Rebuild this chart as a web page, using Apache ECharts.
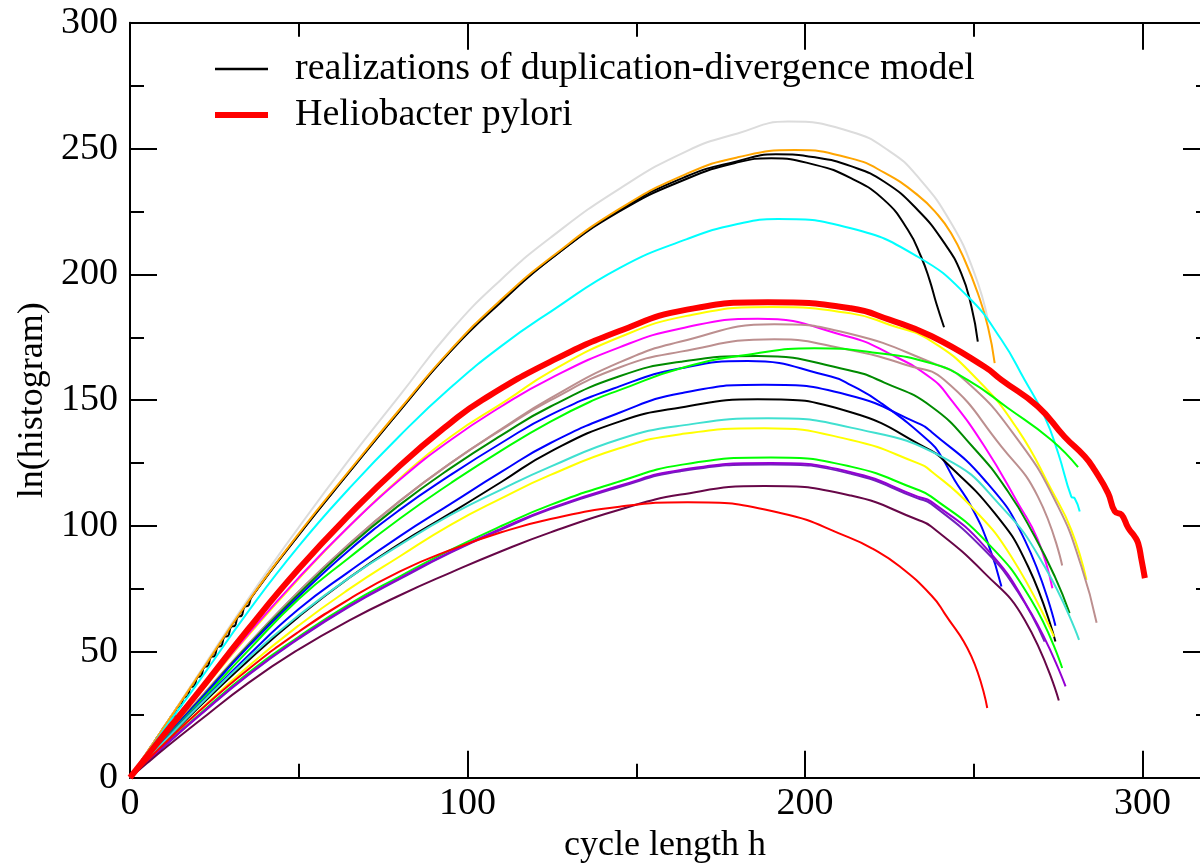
<!DOCTYPE html>
<html><head><meta charset="utf-8">
<script src="https://cdn.jsdelivr.net/npm/echarts@6/dist/echarts.min.js"></script>
<style>html,body{margin:0;padding:0;background:#fff}#c{width:1200px;height:865px}</style>
</head><body><div id="c"></div>
<script>
const FONT = '"Liberation Serif","Times New Roman",serif';
const LEGEND_REAL = 'realizations of duplication-divergence model';
const LEGEND_HP = 'Heliobacter pylori';
const X_NAME = 'cycle length h';
const Y_NAME = 'ln(histogram)';

// ---- data: [cycle length h, ln(histogram)] ----
const black1 = [[0,0],[5,10],[10,20],[20,40],[35,70],[50,96.5],[65,121.5],[80,146],[95,169.5],[110,189.5],[125,206.5],[145,225.5],[165,239],[180,245],[191.4,247.7],[203,246.5],[213.6,243],[223.5,236.8],[233.4,225.6],[241.3,212.4],[246.3,200.4],[249.3,187.2],[251.2,173.3]];
const black2 = [[0,0],[2,4],[3,4.3],[4,8],[5,8.3],[6,12],[7,12.3],[8,16],[9,16.3],[10,20],[11,20.3],[12,24],[13,24.3],[14,28],[15,28.3],[16,32],[17,32.3],[18,36],[19,36.3],[20,40],[21,40.3],[22,44],[23,44.3],[24,48],[25,48.3],[26,52],[27,52.3],[28,56],[29,56.3],[30,60],[31,60.3],[32,64],[33,64.3],[34,68],[35,68.3],[36,71.7],[50,96.5],[65,121.5],[80,146],[95,169.5],[110,189],[125,206.5],[145,225],[165,238],[180,244.5],[190,246.1],[203,243.5],[213.6,238.2],[223.5,229.5],[230.5,217.6],[234.4,207],[236.9,197.8],[238.9,188.5],[241.2,179]];
const grey = [[0,0],[5,10],[10,20],[20,40.5],[35,71],[50,99.5],[65,126.5],[80,152],[95,177.5],[110,198],[125,215],[145,234],[165,249],[180,256],[195,260.7],[213.6,256.7],[225,249],[233.4,238.8],[243.3,220.4],[250.2,200.4],[254.2,181.9]];
const orange = [[0,0],[5,10],[10,20],[20,40],[35,70],[50,97],[65,122],[80,146.5],[95,170],[110,190],[125,207],[145,226],[165,240],[180,246.5],[197,249.4],[213.6,246.1],[223.5,240.4],[233.4,231.5],[239.4,223.6],[243.3,216.3],[247.3,205.7],[251.2,192.5],[254.2,179.2],[256.2,164.7]];
const cyan = [[0,0],[5,9.5],[10,19],[20,37.5],[35,66],[50,92],[65,115],[80,136],[95,155],[110,171.5],[125,185.5],[145,202.5],[165,214],[180,220],[192,222],[213.6,218.3],[233.4,207],[248.3,191.1],[258.2,174],[265.1,158],[271,143.5],[275,129],[278.9,111.7],[279.9,111],[281.4,105.8]];
const yellow1 = [[0,0],[5,8.3],[10,16.5],[20,32.5],[35,56.5],[50,79],[65,100],[80,119],[95,135.5],[111.8,150.1],[124.6,161.4],[145,175],[165,183.5],[190,187],[213.6,184.5],[225,180],[237.4,173.5],[251.2,158],[263.1,138.2],[273,114.4],[278.9,98.5],[283.4,78.6]];
const magenta = [[0,0],[5,8.3],[10,16.6],[20,32.8],[35,57],[50,79.5],[65,100],[80,118.5],[95,134.2],[110,147.5],[124.6,158.7],[145,171],[163.2,178.5],[186,182.4],[212.7,175.3],[225,168.5],[237.4,158.7],[243.3,150.1],[253.2,131.6],[263.1,109.1],[269,94.5],[273.3,75.3]];
const brownUpper = [[0,0],[5,7.8],[10,15.5],[20,30.5],[35,53],[50,74],[65,93],[80,110],[95,125],[110,138.5],[124.6,150.8],[145,165],[163.2,173.3],[190.9,180.2],[213,176.5],[237.4,165],[247.3,158],[263.1,134.2],[275,107.7],[281.9,83.9],[286.4,61.6]];
const brownLower = [[0,0],[5,7.8],[10,15.5],[20,30.5],[35,53],[50,74],[65,93],[80,110],[95,125],[110,138.2],[124.6,150],[145,163],[163.2,169.3],[190.9,174.2],[213,170],[230,164],[241.3,158],[258.2,131.6],[269,111.7],[276.2,84.3]];
const green4 = [[0,0],[5,7.7],[10,15.3],[20,30],[35,52.5],[50,73],[65,92],[80,108.5],[95,123],[110,136],[124.6,147.5],[145,159.5],[163.2,165.3],[186,167.6],[212.7,162],[223.5,157],[237.4,147.5],[250,131],[260,114],[268,96],[274,80],[278.4,65.4]];
const blue1 = [[0,0],[5,7.6],[10,15.2],[20,29.8],[35,52],[50,72],[65,90.5],[80,106.5],[95,120.3],[110,133],[124.6,144.2],[145,155.5],[163.2,162.7],[183,165.6],[207.7,159.4],[213.6,156],[222.6,148.8],[237.4,132.9],[240.4,127.6],[244.3,118.3],[249.3,107.7],[254.2,93.2],[258.2,76]];
const lime1 = [[0,0],[5,7.4],[10,14.8],[20,29],[35,50.5],[50,71],[65,87.5],[80,103],[95,117],[110,130],[124.6,141.5],[137.5,150.1],[145,154],[164,163],[185,168.5],[202.8,170.6],[220,169],[237.4,164.7],[248.3,158],[260,147],[273,134.2],[280.9,123.4]];
const blue2 = [[0,0],[5,7.2],[10,14.4],[20,28.3],[35,48.5],[50,67],[65,82],[80,96],[95,108.8],[110,121.5],[124.6,133],[145,145],[163.2,152.8],[187.9,156.1],[212.7,152.1],[233.4,140.9],[237.4,137.5],[253.2,118.3],[265.1,94.5],[274.2,60.4]];
const black3 = [[0,0],[5,7],[10,14],[20,27.5],[35,46.5],[50,64],[65,79.5],[80,93],[95,105.1],[110,117.5],[124.6,129.6],[145,141.5],[163.2,147.1],[186,150.4],[213.6,145.2],[237.4,130],[240.4,127],[256.2,105.1],[266.1,83.9],[274.2,54.1]];
const turquoise = [[0,0],[5,7.1],[10,14.2],[20,28],[35,47.5],[50,64.5],[65,79.5],[80,92.5],[95,104.4],[110,114.5],[124.6,123.6],[145,134.5],[163.2,139.9],[189,142.8],[213.6,139.1],[241.3,127],[258.2,107.7],[271,83.9],[281.2,54.8]];
const yellow2 = [[0,0],[5,6.6],[10,13.2],[20,26],[35,44.2],[50,60.5],[65,75],[80,88],[95,100.5],[110,111],[124.6,120.3],[145,130.9],[163.2,136.5],[187.9,138.9],[213.6,134.2],[233.4,125],[237.4,121.8],[249.3,107.7],[261.1,87.9],[273.8,56]];
const lime2 = [[0,0],[5,6.3],[10,12.5],[20,24.5],[35,41.6],[50,56],[65,69],[80,80],[95,90.5],[110,100],[124.6,108.4],[145,117.7],[163.2,124.3],[189.9,127.2],[213.6,123.6],[233.4,114.4],[237.4,111.7],[253.2,94.5],[267,70.7],[276.2,43.6]];
const violet = [[0,0],[5,6.2],[10,12.4],[20,24.2],[35,41],[50,55.5],[65,68.3],[80,79.3],[95,89.7],[110,99],[124.6,107.1],[145,116],[163.2,122.3],[189.9,125],[213.6,121.4],[233.4,111.7],[237.4,109.7],[253.2,91.9],[267,65.4],[277.2,36.3]];
const indigo = [[0,0],[5,6.2],[10,12.3],[20,24],[35,40.7],[50,55.2],[65,68],[80,79],[95,89.4],[110,98.6],[124.6,106.7],[145,115.5],[163.2,121.8],[189.9,124.5],[213.6,120.8],[233.4,111],[237.4,108.8],[253.2,90.5],[263,74],[271,54.1]];
const maroon = [[0,0],[5,5.7],[10,11.3],[20,22],[35,37.6],[50,51],[65,62.5],[80,72.5],[95,81.5],[110,90],[124.6,97.5],[145,106.5],[163.2,112.5],[188,115.9],[213.6,112.1],[233.4,102.5],[237.4,99.8],[253.2,81.3],[265.1,62.7],[275.2,30.7]];
const redThin = [[0,0],[5,6.7],[10,13.3],[20,25.8],[35,43],[50,58],[65,71],[80,82],[95,90.5],[110,97.5],[124.6,102.8],[145,107.7],[165.2,109.5],[193,105.1],[213,95.5],[220,91],[228,84],[237.4,72.5],[241.3,65.4],[249.3,48.2],[254,27.7]];
const pylori = [[0,0],[5,8.5],[10,17],[20,33.5],[35,59],[50,83],[65,104.5],[80,124],[95,141],[104.4,150.1],[124.6,165.3],[145,177.5],[165,186],[189,188.9],[213.6,186.5],[225,182],[237.4,175.5],[253.2,163.3],[258.2,158.1],[269,147.5],[276.9,135.5],[282.9,127.6],[285.8,122.3],[289.8,113.1],[291.8,105.8],[293.8,104.5],[295.8,99.2],[297.7,95.8],[298.7,93.2],[299.7,86.6],[300.7,79.3]];

const xMajorTicks = [0, 100, 200, 300];
const yMajorTicks = [0, 50, 100, 150, 200, 250, 300];

// ---- styling (separate from data) ----
const realizationSeries = [
  [black1, '#000000'], [black2, '#000000'], [grey, '#dcdcdc'], [orange, '#ffa500'],
  [cyan, '#00ffff'], [yellow1, '#ffff00'], [magenta, '#ff00ff'], [brownUpper, '#bc8f8f'],
  [brownLower, '#bc8f8f'], [green4, '#008b00'], [blue1, '#0000ff'], [lime1, '#00ff00'],
  [blue2, '#0000ff'], [black3, '#000000'], [turquoise, '#40e0d0'], [yellow2, '#ffff00'],
  [lime2, '#00ff00'], [indigo, '#7221bc'], [violet, '#9400d3'], [maroon, '#670748'], [redThin, '#ff0000']
];

const series = realizationSeries.map(([d, c]) => ({
  type: 'line', name: LEGEND_REAL, data: d, xAxisIndex: 0, yAxisIndex: 0,
  symbol: 'none', showSymbol: false, smooth: 0.5,
  lineStyle: {color: c, width: 2}, itemStyle: {color: c}, silent: true, z: 2
}));
series.push({
  type: 'line', name: LEGEND_HP, data: pylori, xAxisIndex: 0, yAxisIndex: 0,
  symbol: 'none', showSymbol: false, smooth: 0.5,
  lineStyle: {color: '#ff0000', width: 6}, itemStyle: {color: '#ff0000'}, silent: true, z: 3
});

const tickLine = {color: '#000', width: 2};
const xMajorFmt = v => (xMajorTicks.indexOf(v) >= 0 ? String(v) : '');
const yFmt = v => (yMajorTicks.indexOf(v) >= 0 ? String(v) : '');

function xAxisDef(pos, major) {
  const a = {
    type: 'value', min: 0, max: 320, interval: major ? 100 : 50, position: pos,
    axisLine: {show: major, onZero: false, lineStyle: {color: '#000', width: 2}},
    axisTick: {show: true, inside: true, length: major ? 27 : 14, lineStyle: tickLine},
    axisLabel: {show: false}, splitLine: {show: false}, minorTick: {show: false}
  };
  if (major && pos === 'bottom') {
    a.axisLabel = {show: true, fontFamily: FONT, fontSize: 38, color: '#000', margin: 7, formatter: xMajorFmt};
    a.name = X_NAME; a.nameLocation = 'middle'; a.nameGap = 47;
    a.nameTextStyle = {fontFamily: FONT, fontSize: 36, color: '#000', padding: [0, 10, 0, 0]};
  }
  return a;
}
function yAxisDef(pos) {
  const a = {
    type: 'value', min: 0, max: 300, interval: 50, position: pos,
    axisLine: {show: true, onZero: false, lineStyle: {color: '#000', width: 2}},
    axisTick: {show: true, inside: true, length: 27, lineStyle: tickLine},
    minorTick: {show: true, splitNumber: 2, length: 14, lineStyle: tickLine},
    axisLabel: {show: false}, splitLine: {show: false}, minorSplitLine: {show: false}
  };
  if (pos === 'left') {
    a.axisLabel = {show: true, fontFamily: FONT, fontSize: 38, color: '#000', margin: 12, formatter: yFmt};
    a.name = Y_NAME; a.nameLocation = 'middle'; a.nameGap = 70;
    a.nameTextStyle = {fontFamily: FONT, fontSize: 36, color: '#000'};
  }
  return a;
}

const chart = echarts.init(document.getElementById('c'), null, {renderer: 'canvas'});
chart.setOption({
  animation: false,
  backgroundColor: '#ffffff',
  grid: {left: 130, top: 22.7, right: -10, bottom: 87.3, containLabel: false, outerBoundsMode: 'none', show: false},
  xAxis: [xAxisDef('bottom', true), xAxisDef('bottom', false), xAxisDef('top', true), xAxisDef('top', false)],
  yAxis: [yAxisDef('left'), yAxisDef('right')],
  legend: {
    show: true, orient: 'vertical', left: 207, top: 41, itemWidth: 53, itemHeight: 14, itemGap: 0,
    selectedMode: false,
    data: [
      {name: LEGEND_REAL, lineStyle: {color: '#000000', width: 2.5}},
      {name: LEGEND_HP, lineStyle: {color: '#ff0000', width: 6}}
    ],
    itemStyle: {opacity: 0},
    textStyle: {fontFamily: FONT, fontSize: 38, color: '#000', lineHeight: 46, padding: [0, 0, 0, 22]}
  },
  series: series
});
</script></body></html>
